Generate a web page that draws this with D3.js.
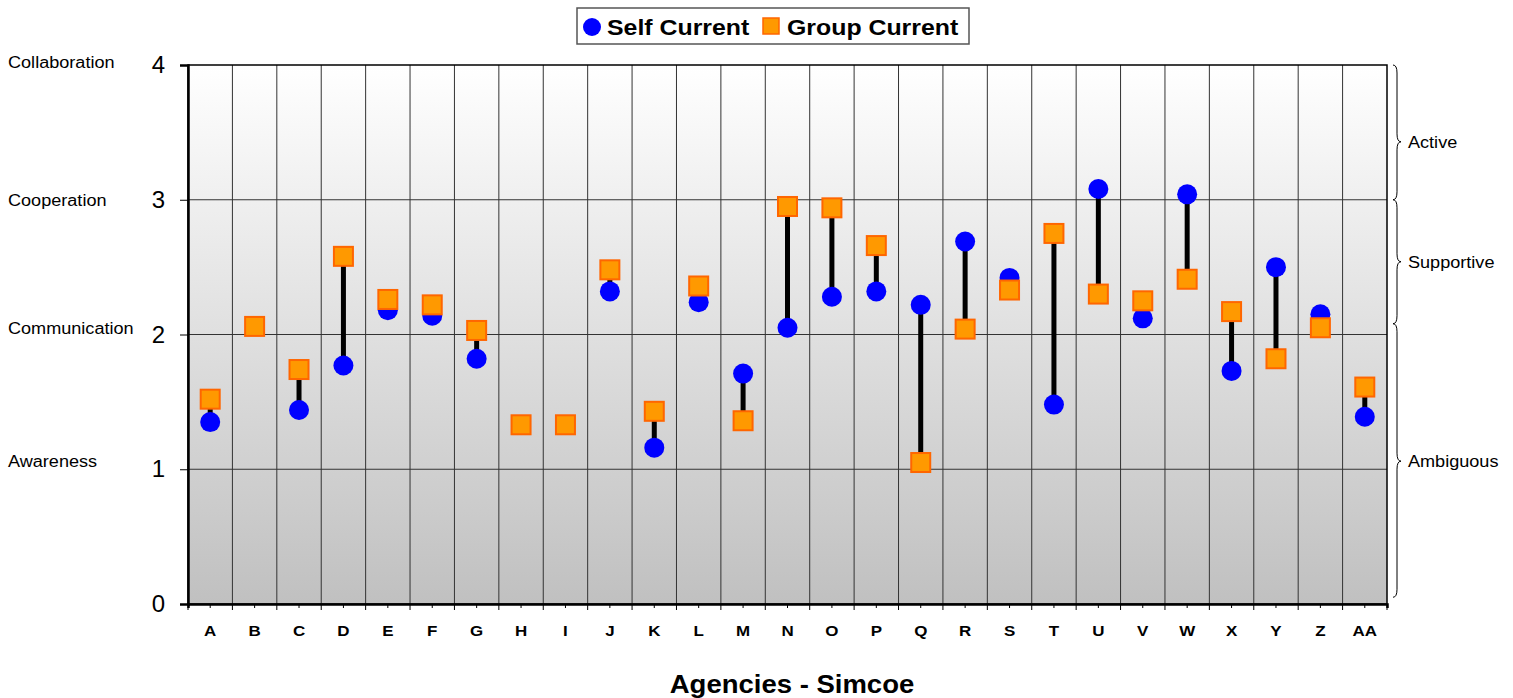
<!DOCTYPE html>
<html>
<head>
<meta charset="utf-8">
<script src="https://cdn.jsdelivr.net/npm/d3@7"></script>
<style>
  body { margin: 0; background: #fff; font-family: "Liberation Sans", Arial, sans-serif; }
</style>
</head>
<body>
<div id="chart"></div>
<script>
// agencies along the x axis
const agencies = ["A","B","C","D","E","F","G","H","I","J","K","L","M","N","O","P","Q","R","S","T","U","V","W","X","Y","Z","AA"];
// self rating (null = no value)
const selfCurrent = [1.35,null,1.44,1.77,2.18,2.14,1.82,null,null,2.32,1.16,2.24,1.71,2.05,2.28,2.32,2.22,2.69,2.42,1.48,3.08,2.12,3.04,1.73,2.50,2.15,1.39];
// group rating
const groupCurrent = [1.52,2.06,1.74,2.58,2.26,2.22,2.03,1.33,1.33,2.48,1.43,2.36,1.36,2.95,2.94,2.66,1.05,2.04,2.33,2.75,2.30,2.25,2.41,2.17,1.82,2.05,1.61];
const yTicks = [0,1,2,3,4];
// level names, placed near their value on the left
const levelLabels = [
  {value: 4.02, text: "Collaboration"},
  {value: 3.0, text: "Cooperation"},
  {value: 2.05, text: "Communication"},
  {value: 1.06, text: "Awareness"}
];
// right-hand braces: range and the point of the brace
const bands = [
  {from: 4, to: 3, tip: 3.43, text: "Active"},
  {from: 3, to: 2.08, tip: 2.54, text: "Supportive"},
  {from: 2.08, to: 0.05, tip: 1.06, text: "Ambiguous"}
];

const W = 1513, H = 698;
const margin = {top: 65, right: 126, bottom: 94, left: 188};
const width = W - margin.left - margin.right;
const height = H - margin.top - margin.bottom;
const STRETCH = 1.13; // reference text is a little wider than it is tall

const svg = d3.select("#chart").append("svg")
  .attr("width", W).attr("height", H);

// widen a text selection horizontally
function stretch(sel, k) {
  sel.each(function () {
    const len = this.getComputedTextLength();
    d3.select(this).attr("textLength", len * k).attr("lengthAdjust", "spacingAndGlyphs");
  });
}

const defs = svg.append("defs");
const grad = defs.append("linearGradient").attr("id", "bg")
  .attr("x1", 0).attr("y1", 0).attr("x2", 0).attr("y2", 1);
grad.append("stop").attr("offset", "0%").attr("stop-color", "#ffffff");
grad.append("stop").attr("offset", "100%").attr("stop-color", "#c0c0c0");

const g = svg.append("g").attr("transform", `translate(${margin.left},${margin.top})`);

const x = d3.scaleBand().domain(agencies).range([0, width]);
const y = d3.scaleLinear().domain([0, 4]).range([height, 0]);

g.append("rect").attr("width", width).attr("height", height).attr("fill", "url(#bg)");

// horizontal grid
g.selectAll(".hgrid").data(yTicks.filter(d => d > 0 && d < 4)).enter()
  .append("line")
  .attr("x1", 0).attr("x2", width)
  .attr("y1", d => y(d)).attr("y2", d => y(d))
  .attr("stroke", "#333").attr("stroke-width", 1);

// vertical grid between categories
g.selectAll(".vgrid").data(agencies.slice(1)).enter()
  .append("line")
  .attr("x1", d => x(d)).attr("x2", d => x(d))
  .attr("y1", 0).attr("y2", height)
  .attr("stroke", "#333").attr("stroke-width", 1);

// plot border
g.append("rect").attr("width", width).attr("height", height)
  .attr("fill", "none").attr("stroke", "#000").attr("stroke-width", 1.5);

// y axis
const yAxis = g.append("g")
  .call(d3.axisLeft(y).tickValues(yTicks).tickFormat(d3.format("d")).tickSize(8).tickPadding(15));
yAxis.select(".domain").attr("stroke", "#000").attr("stroke-width", 2.5);
yAxis.selectAll("text").attr("font-size", 24).attr("font-family", "Liberation Sans, Arial").attr("fill", "#000");
yAxis.selectAll(".tick line").attr("stroke", "#000");

// x axis
const xAxis = g.append("g").attr("transform", `translate(0,${height})`)
  .call(d3.axisBottom(x).tickSize(4).tickPadding(17));
xAxis.select(".domain").attr("stroke", "#000").attr("stroke-width", 2.5);
xAxis.selectAll("text").attr("font-size", 15).attr("font-weight", "bold")
  .attr("font-family", "Liberation Sans, Arial").attr("fill", "#000")
  .call(stretch, STRETCH);
// boundary ticks
g.append("g").selectAll("line").data(d3.range(agencies.length + 1)).enter()
  .append("line")
  .attr("x1", i => i * x.step()).attr("x2", i => i * x.step())
  .attr("y1", height).attr("y2", height + 6)
  .attr("stroke", "#000");

// connectors
const pairs = agencies.map((a, i) => ({a, s: selfCurrent[i], gr: groupCurrent[i]}));
g.selectAll(".conn").data(pairs.filter(d => d.s != null && d.gr != null)).enter()
  .append("line")
  .attr("x1", d => x(d.a) + x.bandwidth() / 2).attr("x2", d => x(d.a) + x.bandwidth() / 2)
  .attr("y1", d => y(d.s)).attr("y2", d => y(d.gr))
  .attr("stroke", "#000").attr("stroke-width", 5);

// self markers
g.selectAll(".self").data(pairs.filter(d => d.s != null)).enter()
  .append("circle")
  .attr("cx", d => x(d.a) + x.bandwidth() / 2).attr("cy", d => y(d.s))
  .attr("r", 10).attr("fill", "#0000ff");

// group markers
const sq = 19;
g.selectAll(".grp").data(pairs.filter(d => d.gr != null)).enter()
  .append("rect")
  .attr("x", d => x(d.a) + x.bandwidth() / 2 - sq / 2).attr("y", d => y(d.gr) - sq / 2)
  .attr("width", sq).attr("height", sq)
  .attr("fill", "#ff9900").attr("stroke", "#ff6600").attr("stroke-width", 2);

// level labels on the left
svg.selectAll(".lvl").data(levelLabels).enter()
  .append("text")
  .attr("x", 8).attr("y", d => margin.top + y(d.value) + 6)
  .attr("font-size", 16).attr("fill", "#000")
  .text(d => d.text)
  .call(stretch, STRETCH);

// braces on the right
function bracePath(x0, y0, y1, ym, w) {
  const r = w / 2;
  return `M${x0},${y0} Q${x0 + r},${y0} ${x0 + r},${y0 + r * 2}`
    + ` L${x0 + r},${ym - r * 2} Q${x0 + r},${ym} ${x0 + w},${ym}`
    + ` Q${x0 + r},${ym} ${x0 + r},${ym + r * 2}`
    + ` L${x0 + r},${y1 - r * 2} Q${x0 + r},${y1} ${x0},${y1}`;
}
const bx = margin.left + width + 6;
svg.selectAll(".brace").data(bands).enter()
  .append("path")
  .attr("d", d => bracePath(bx, margin.top + y(d.from), margin.top + y(d.to), margin.top + y(d.tip), 8))
  .attr("fill", "none").attr("stroke", "#000").attr("stroke-width", 1);
svg.selectAll(".bandtxt").data(bands).enter()
  .append("text")
  .attr("x", bx + 15).attr("y", d => margin.top + y(d.tip) + 6)
  .attr("font-size", 16).attr("fill", "#000")
  .text(d => d.text)
  .call(stretch, STRETCH);

// legend
const lg = svg.append("g");
lg.append("rect").attr("x", 577).attr("y", 8).attr("width", 392).attr("height", 36)
  .attr("fill", "#fff").attr("stroke", "#555").attr("stroke-width", 1.5);
lg.append("circle").attr("cx", 592).attr("cy", 27).attr("r", 9).attr("fill", "#0000ff");
lg.append("text").attr("x", 607).attr("y", 35).attr("font-size", 22).attr("font-weight", "bold")
  .text("Self Current").call(stretch, STRETCH);
lg.append("rect").attr("x", 763).attr("y", 18).attr("width", 16).attr("height", 16)
  .attr("fill", "#ff9900").attr("stroke", "#ff6600").attr("stroke-width", 1.5);
lg.append("text").attr("x", 787).attr("y", 35).attr("font-size", 22).attr("font-weight", "bold")
  .text("Group Current").call(stretch, STRETCH);

// x title
svg.append("text").attr("x", 792).attr("y", 693)
  .attr("text-anchor", "middle").attr("font-size", 25).attr("font-weight", "bold")
  .text("Agencies - Simcoe")
  .call(stretch, 1.1);
</script>
</body>
</html>
